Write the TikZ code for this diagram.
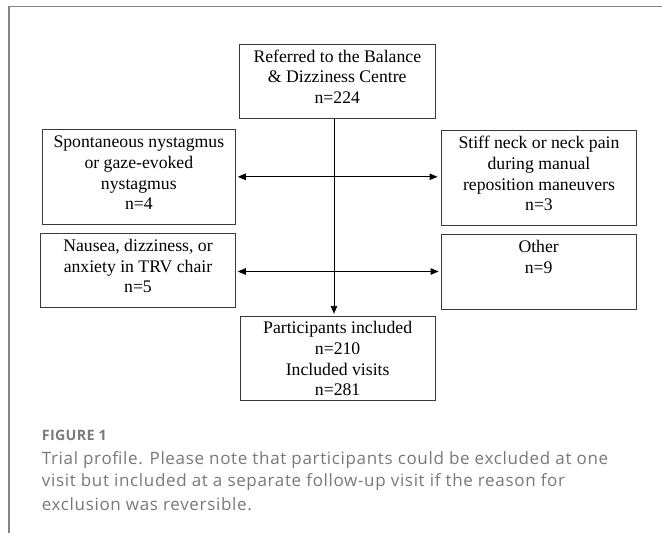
\documentclass[tikz,border=0pt]{standalone}
\usepackage{fontspec}
\setmainfont{Liberation Serif}
\newfontfamily\capfont[LetterSpace=3.9]{Open Sans}
\newfontfamily\figfont[LetterSpace=2]{Open Sans}
\usetikzlibrary{arrows.meta}
\definecolor{framegray}{HTML}{858585}
\definecolor{boxgray}{HTML}{3A3A3A}
\definecolor{capgray}{HTML}{787878}
\definecolor{figgray}{HTML}{7A7A7A}
\begin{document}
\begin{tikzpicture}[x=1pt,y=-1pt,
  boxshape/.style={draw=boxgray,line width=0.9pt,inner sep=0pt},
  boxtext/.style={anchor=north,inner sep=0pt,align=center,
    font=\fontsize{17.7}{20.7}\selectfont},
  arr/.style={line width=0.9pt,-{Triangle[length=8pt,width=6.5pt]}},
  captext/.style={anchor=base west,inner sep=0pt,text=capgray,
    font=\capfont\fontsize{17}{23}\selectfont}]
\useasboundingbox (0,0) rectangle (662,533);
% outer frame (top and left edges visible)
\draw[framegray,line width=1.4pt] (9,560) -- (9,6.7) -- (700,6.7);
\draw[framegray,line width=2pt] (9,7) -- (9,560);

% boxes
\node[boxshape,minimum width=196pt,minimum height=74.7pt] (top) at (337.3,81.35) {};
\node[boxshape,minimum width=192.3pt,minimum height=94.7pt] (l1) at (138.85,176.65) {};
\node[boxshape,minimum width=195.4pt,minimum height=95.3pt] (r1) at (539,177.65) {};
\node[boxshape,minimum width=194.6pt,minimum height=74pt] (l2) at (138,270.3) {};
\node[boxshape,minimum width=194.7pt,minimum height=74.6pt] (r2) at (538.65,272) {};
\node[boxshape,minimum width=195.3pt,minimum height=83.7pt] (bot) at (337.65,358.15) {};

% box texts
\node[boxtext] (ttop) at ([yshift=-6pt]top.north) {Referred to the Balance\\ \& Dizziness Centre\\ n=224};
\node[boxtext] (tl1) at ([yshift=-7pt]l1.north) {Spontaneous nystagmus\\ or gaze-evoked\\ nystagmus\\ n=4};
\node[boxtext] (tr1) at ([yshift=-6.5pt]r1.north) {Stiff neck or neck pain\\ during manual\\ reposition maneuvers\\ n=3};
\node[boxtext] (tl2) at ([yshift=-6pt]l2.north) {Nausea, dizziness, or\\ anxiety in TRV chair\\ n=5};
\node[boxtext] (tr2) at ([yshift=-6pt]r2.north) {Other\\ n=9};
\node[boxtext] (tbot) at ([yshift=-5.5pt]bot.north) {Participants included\\ n=210\\ Included visits\\ n=281};

% connectors
\coordinate (vtop) at (334,118.7);
\coordinate (vbot) at (334,316.3);
\coordinate (c1) at (334,176.8);
\coordinate (c2) at (334,271.5);
\draw[arr,shorten >=2.5pt] (vtop) -- (vbot);
\draw[arr,shorten >=2.3pt] (c1) -- (c1 -| l1.east);
\draw[arr,shorten >=3.3pt] (c1) -- (c1 -| r1.west);
\draw[arr,shorten >=2pt] (c2) -- (c2 -| l2.east);
\draw[arr,shorten >=2.3pt] (c2) -- (c2 -| r2.west);

% caption
\node[anchor=base west,inner sep=0pt,text=figgray,font=\figfont\bfseries\fontsize{14.3}{17}\selectfont] (fig) at (41.7,440.7) {FIGURE 1};
\node[captext] (cap1) at (41.7,464) {Trial profile. Please note that participants could be excluded at one};
\node[captext] (cap2) at (41.7,486.8) {visit but included at a separate follow-up visit if the reason for};
\node[captext] (cap3) at (41.7,510) {exclusion was reversible.};
\end{tikzpicture}
\end{document}
